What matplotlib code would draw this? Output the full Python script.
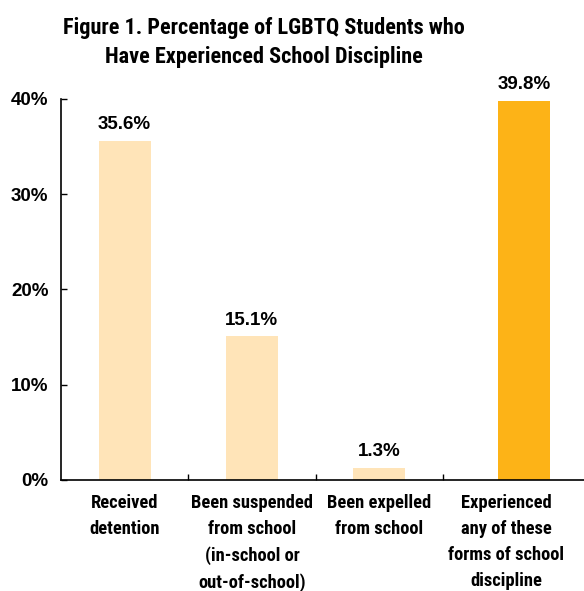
import matplotlib
matplotlib.use("Agg")
import matplotlib.pyplot as plt
import numpy as np

COND = ["Roboto Condensed", "DejaVu Sans"]
SANS = ["Liberation Sans", "DejaVu Sans"]

categories = ["Received\ndetention",
              "Been suspended\nfrom school\n(in-school or\nout-of-school)",
              "Been expelled\nfrom school",
              "Experienced\nany of these\nforms of school\ndiscipline"]
values = [35.6, 15.1, 1.3, 39.8]
value_labels = ["35.6%", "15.1%", "1.3%", "39.8%"]
yticks = [0, 10, 20, 30, 40]
ytick_labels = ["0%", "10%", "20%", "30%", "40%"]

light = "#FFE4B8"
orange = "#FDB317"
colors = [light, light, light, orange]

fig = plt.figure(figsize=(5.84, 5.91), dpi=100)
ax = fig.add_axes([61/584, 1-480/591, 1-61/584, (480-99)/591])

x = np.arange(len(categories))
bar_x = x + np.array([0, 0, 0, 0.14])
ax.bar(bar_x, values, width=0.41, color=colors, zorder=2)
for bx, v, lab in zip(bar_x, values, value_labels):
    ax.text(bx, v + 0.8, lab, ha="center", va="bottom", fontsize=13.5,
            fontweight="bold", family=SANS)

ax.set_ylim(0, 40)
ax.set_xlim(-0.5, 3.61)
ax.set_yticks(yticks)
ax.set_yticklabels(ytick_labels, fontsize=13.5, fontweight="bold", family=SANS)
ax.set_xticks([0.5, 1.5, 2.5])
ax.set_xticklabels([])
ax.tick_params(axis="y", direction="in", length=4, width=1, pad=9)
ax.tick_params(axis="x", direction="in", length=4, width=1)
for s in ["top", "right"]:
    ax.spines[s].set_visible(False)
for s in ["left", "bottom"]:
    ax.spines[s].set_linewidth(1.2)

for xi, c in zip(x, categories):
    ax.text(xi, -1.45, c, ha="center", va="top", fontsize=13.3, fontweight="bold",
            family=COND, linespacing=1.57)

fig.text(264/584, 1-42.5/591, "Figure 1. Percentage of LGBTQ Students who\nHave Experienced School Discipline",
         ha="center", va="center", fontsize=16, fontweight="bold", family=COND,
         linespacing=1.36)

fig.savefig("out.png", dpi=100)
